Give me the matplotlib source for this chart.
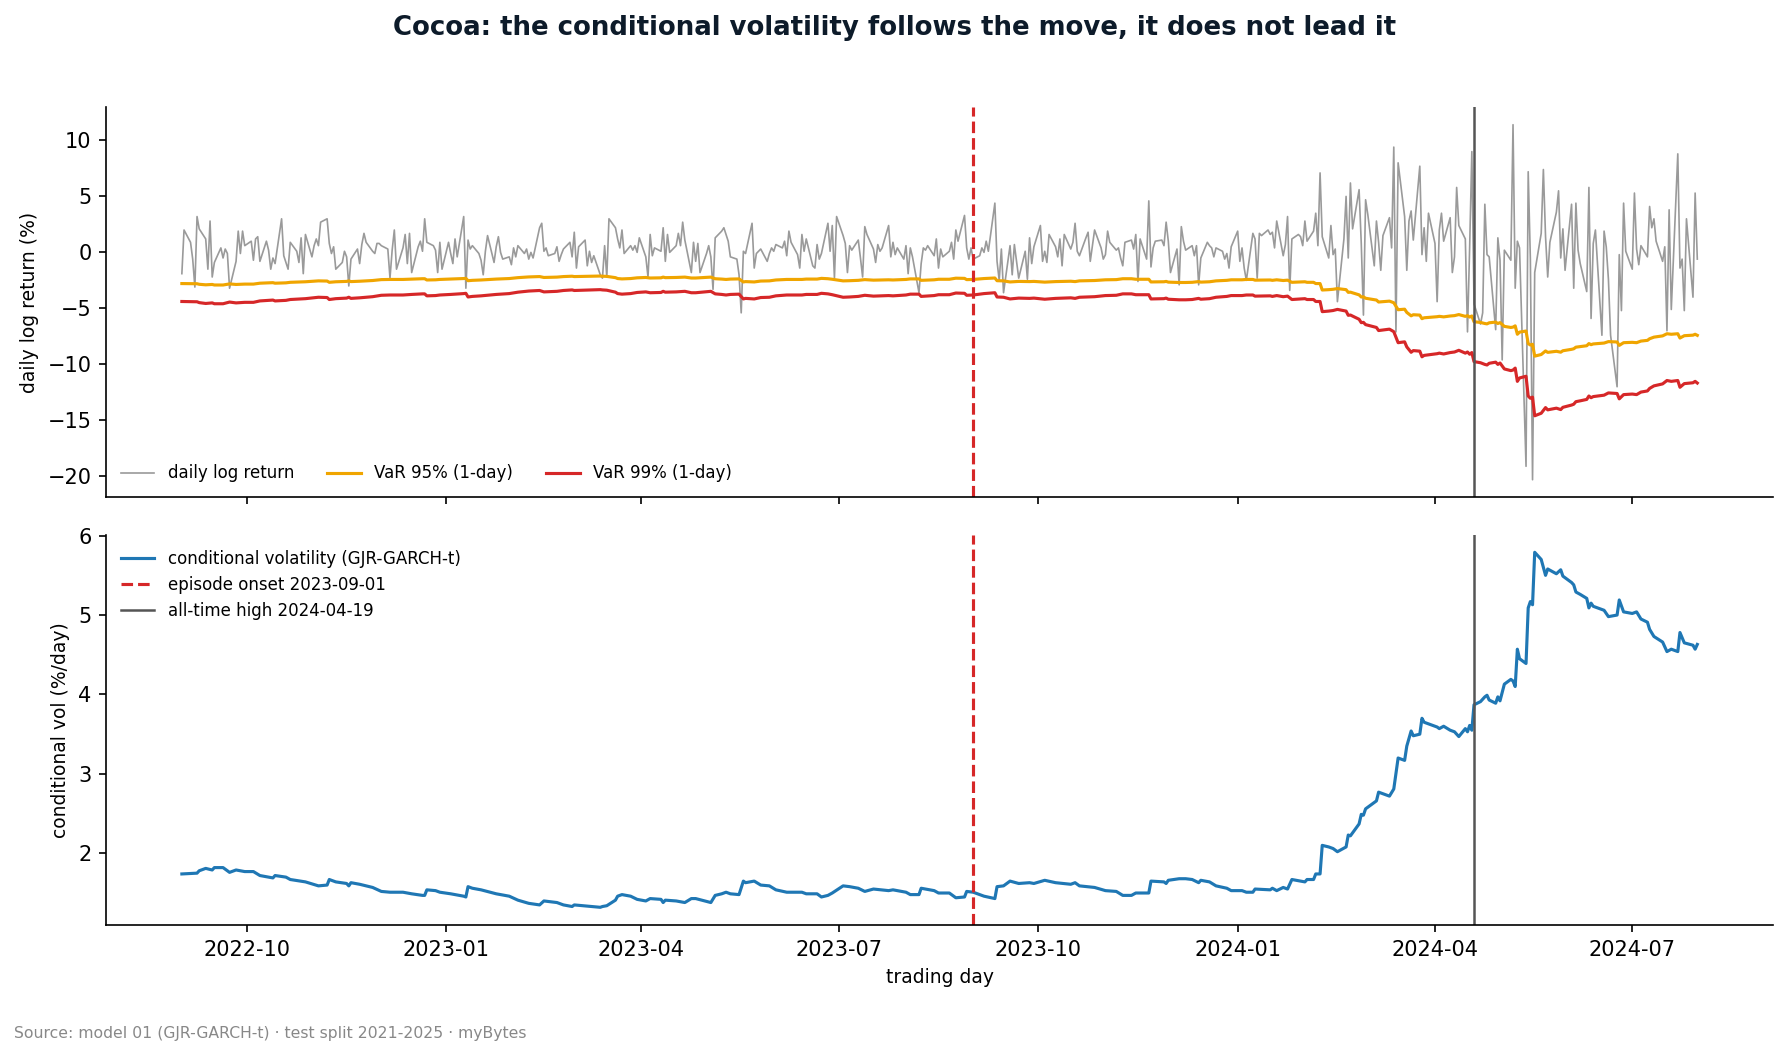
import matplotlib
matplotlib.use("Agg")
import matplotlib.pyplot as plt
import matplotlib.dates as mdates
import pandas as pd

# daily log returns (%), one row per month, business days 2022-09-01 .. 2024-07-31
ret_pct = [
    -1.9, 2.0, 0.9, -0.6, -3.1, 3.2, 2.1, 1.2, -1.5, 2.8, -2.2, -0.9, 0.4, -0.5, 0.3, -0.1, -3.2, -0.8, 1.9, -0.1, 1.9, 0.6,  # 2022-09
    1.0, -0.7, 1.2, 1.4, -0.8, 1.0, 0.2, -1.5, -0.5, -1.0, 3.0, -0.3, -0.9, -1.5, 0.9, 0.1, -0.9, 1.3, -1.9, 1.6, -0.4,  # 2022-10
    0.6, 1.2, 0.6, 2.7, 3.0, 0.8, -0.1, 0.5, -1.5, -0.9, 0.1, -0.4, -3.0, -0.6, 0.3, -1.0, 0.7, 1.7, 0.9, 0.1, -0.1, 0.8,  # 2022-11
    0.8, 0.6, 0.3, -2.3, 0.2, 2.0, -1.5, 0.4, 1.6, -1.0, 1.7, -1.8, 0.5, 1.0, 0.1, 3.0, 0.9, 0.6, 0.2, -1.8, 0.9, -1.5,  # 2022-12
    0.9, -0.1, -1.0, 1.2, -0.4, 3.2, -3.2, 1.1, 0.3, 0.6, -0.1, -0.7, -2.0, 0.1, 1.5, -0.9, 0.5, 1.4, 0.0, -0.6, -0.4, -1.1,  # 2023-01
    0.4, -0.4, 0.6, -0.1, 0.3, -0.6, 0.0, -0.5, 2.2, 2.6, 0.1, 0.4, -0.3, -0.1, 0.5, -0.8, -0.2, 0.3, 0.9, -0.4,  # 2023-02
    1.8, -1.4, 0.5, 1.1, -1.2, 0.1, -0.9, -0.3, -2.0, -2.3, 0.6, -2.2, 3.0, 2.2, 1.2, 0.4, 2.0, -0.1, 0.6, 0.2, 0.6, 0.0, 1.3,  # 2023-03
    -0.4, -2.2, 1.6, -0.3, 0.4, 0.1, 2.2, -0.8, 1.6, 0.0, 0.6, 1.7, 0.6, 2.7, 1.1, -1.8, 0.9, -0.8, 0.8, -1.8,  # 2023-04
    -0.1, 0.6, -0.4, -3.3, 1.3, 1.9, 2.2, 1.6, 1.0, -0.4, -0.6, -2.0, -5.4, 0.1, -0.1, 2.6, -1.4, -0.1, 0.1, 0.3, -0.8, -0.1, 0.4,  # 2023-05
    0.1, 0.7, 0.4, 1.0, -0.3, 1.9, 0.9, -0.2, -1.4, 1.6, 0.1, 1.2, -1.2, -1.4, 0.7, -0.6, -0.1, 2.6, 0.1, 2.4, -2.3, 3.2,  # 2023-06
    1.5, 0.8, -1.8, 0.6, 0.2, 1.1, -0.5, -2.2, 2.3, 1.6, 0.3, -0.9, 0.7, 0.1, 0.4, 2.4, -0.4, 0.9, -0.2, 0.4, -0.6,  # 2023-07
    0.6, -1.9, 0.4, -0.4, -3.6, -1.0, 0.4, 0.2, 0.6, -0.3, 1.2, -1.4, 0.3, -0.4, 0.1, 0.9, -0.6, 2.0, 1.0, 3.3, 0.4, -0.6, 0.4,  # 2023-08
    -0.6, -0.3, 0.4, 0.0, 1.0, 0.1, 4.4, -0.8, -2.5, 0.3, -3.6, 0.6, -2.0, 0.7, -0.8, -2.3, 0.1, -2.4, 1.3, -1.0, 0.5,  # 2023-09
    2.4, -0.8, 0.1, -0.9, 1.6, 0.5, -0.4, 1.2, -1.2, 1.6, 0.3, 0.9, 2.6, 0.1, -0.3, 1.3, 1.8, -0.8, 0.6, 2.0, 0.4, -0.6,  # 2023-10
    -0.2, 1.9, 0.9, 0.2, 0.4, -0.5, -1.2, 0.9, 1.1, 0.3, 1.6, -2.6, 1.2, -0.6, 4.6, -1.3, 0.4, 1.0, 1.1, 0.6, 2.7, 1.0,  # 2023-11
    -1.8, 0.3, -2.9, 2.3, 1.0, 0.2, 0.6, -0.3, 0.6, -2.9, -0.5, 0.9, 0.6, 0.4, -0.4, 0.4, 0.1, -0.6, -0.1, -1.4, 0.5,  # 2023-12
    1.9, -0.8, 0.4, -1.4, -2.5, 1.7, 1.2, -2.3, 1.7, 1.5, 2.0, 1.6, 1.8, 0.4, 2.8, -0.3, 0.7, 3.2, -3.4, 1.2, 1.6, 1.4, 0.6,  # 2024-01
    2.8, 1.0, 1.9, 3.5, 0.6, 7.1, 1.4, -0.5, 2.4, -0.2, 0.3, -4.4, 1.2, 5.0, -0.5, 6.2, 2.1, 5.6, 0.8, -5.6, 4.7,  # 2024-02
    3.4, -1.2, 2.8, 0.9, -1.6, 1.5, 3.1, 0.4, 9.4, -7.1, 8.0, 3.2, -1.6, 2.8, 3.7, 1.1, 7.7, -0.2, 2.2, -0.8, 3.5,  # 2024-03
    0.8, -4.4, 2.0, 3.5, 1.0, 3.1, -1.8, -0.4, 5.8, 2.4, 1.2, -7.1, 0.5, 9.0, -4.6, -6.4, -5.4, 4.3, -0.2, -0.4, -6.9, 1.3,  # 2024-04
    -0.7, -9.6, 0.2, -0.7, 11.4, -3.2, 1.0, 0.4, -19.1, 7.2, -0.6, -20.3, -1.8, 1.7, 7.4, 1.4, -2.2, 0.9, 3.6, 5.5, -0.5, 2.1, -1.6,  # 2024-05
    4.3, -3.2, 4.4, 0.2, -1.0, -3.5, 5.8, -5.9, 0.8, 2.0, -7.4, 1.9, 0.5, -2.4, -7.4, -12.0, -0.2, -5.2, 4.4, 0.1,  # 2024-06
    -1.5, 5.3, 0.3, -1.1, 0.6, -0.4, 4.1, 2.2, 3.0, 1.0, -0.8, 0.5, -7.0, 3.8, -5.1, 8.8, -1.4, -0.6, -5.2, 3.0, -4.0, 5.3, -0.6,  # 2024-07
]
ret_dates = pd.bdate_range("2022-09-01", periods=len(ret_pct))

# GJR-GARCH-t conditional volatility (%/day), read where the line turns
vol_dates = [
    "2022-09-01", "2022-09-08", "2022-09-09", "2022-09-12", "2022-09-15", "2022-09-16", "2022-09-20",
    "2022-09-23", "2022-09-26", "2022-09-30", "2022-10-04", "2022-10-07", "2022-10-13", "2022-10-14",
    "2022-10-19", "2022-10-21", "2022-10-28", "2022-11-03", "2022-11-07", "2022-11-08", "2022-11-11",
    "2022-11-16", "2022-11-17", "2022-11-18", "2022-11-22", "2022-11-28", "2022-12-02", "2022-12-06",
    "2022-12-12", "2022-12-16", "2022-12-21", "2022-12-22", "2022-12-23", "2022-12-27", "2022-12-29",
    "2023-01-03", "2023-01-09", "2023-01-10", "2023-01-11", "2023-01-13", "2023-01-17", "2023-01-24",
    "2023-01-30", "2023-02-03", "2023-02-08", "2023-02-13", "2023-02-15", "2023-02-21", "2023-02-24",
    "2023-02-28", "2023-03-01", "2023-03-09", "2023-03-13", "2023-03-14", "2023-03-16", "2023-03-20",
    "2023-03-21", "2023-03-23", "2023-03-27", "2023-03-30", "2023-04-03", "2023-04-05", "2023-04-10",
    "2023-04-11", "2023-04-12", "2023-04-17", "2023-04-21", "2023-04-24", "2023-04-26", "2023-05-03",
    "2023-05-05", "2023-05-08", "2023-05-10", "2023-05-12", "2023-05-16", "2023-05-18", "2023-05-19",
    "2023-05-23", "2023-05-26", "2023-05-30", "2023-06-02", "2023-06-07", "2023-06-14", "2023-06-16",
    "2023-06-21", "2023-06-23", "2023-06-26", "2023-06-28", "2023-07-03", "2023-07-06", "2023-07-10",
    "2023-07-13", "2023-07-17", "2023-07-24", "2023-07-26", "2023-08-01", "2023-08-03", "2023-08-07",
    "2023-08-08", "2023-08-14", "2023-08-16", "2023-08-21", "2023-08-24", "2023-08-28", "2023-08-29",
    "2023-09-01", "2023-09-06", "2023-09-11", "2023-09-12", "2023-09-15", "2023-09-18", "2023-09-22",
    "2023-09-27", "2023-09-29", "2023-10-04", "2023-10-09", "2023-10-16", "2023-10-18", "2023-10-20",
    "2023-10-27", "2023-11-01", "2023-11-06", "2023-11-09", "2023-11-13", "2023-11-15", "2023-11-21",
    "2023-11-22", "2023-11-28", "2023-11-29", "2023-11-30", "2023-12-05", "2023-12-08", "2023-12-11",
    "2023-12-14", "2023-12-15", "2023-12-19", "2023-12-22", "2023-12-27", "2023-12-29", "2024-01-03",
    "2024-01-05", "2024-01-08", "2024-01-09", "2024-01-16", "2024-01-17", "2024-01-19", "2024-01-22",
    "2024-01-24", "2024-01-26", "2024-02-01", "2024-02-02", "2024-02-05", "2024-02-06", "2024-02-08",
    "2024-02-09", "2024-02-12", "2024-02-14", "2024-02-16", "2024-02-20", "2024-02-21", "2024-02-22",
    "2024-02-26", "2024-02-27", "2024-02-28", "2024-02-29", "2024-03-05", "2024-03-06", "2024-03-11",
    "2024-03-13", "2024-03-15", "2024-03-18", "2024-03-19", "2024-03-21", "2024-03-22", "2024-03-25",
    "2024-03-26", "2024-03-27", "2024-04-02", "2024-04-03", "2024-04-05", "2024-04-08", "2024-04-10",
    "2024-04-12", "2024-04-15", "2024-04-16", "2024-04-17", "2024-04-18", "2024-04-19", "2024-04-22",
    "2024-04-24", "2024-04-25", "2024-04-26", "2024-04-29", "2024-04-30", "2024-05-01", "2024-05-03",
    "2024-05-06", "2024-05-07", "2024-05-08", "2024-05-09", "2024-05-10", "2024-05-13", "2024-05-14",
    "2024-05-15", "2024-05-16", "2024-05-17", "2024-05-20", "2024-05-22", "2024-05-23", "2024-05-27",
    "2024-05-29", "2024-05-30", "2024-06-03", "2024-06-04", "2024-06-05", "2024-06-07", "2024-06-10",
    "2024-06-11", "2024-06-12", "2024-06-13", "2024-06-18", "2024-06-20", "2024-06-24", "2024-06-25",
    "2024-06-27", "2024-07-01", "2024-07-03", "2024-07-05", "2024-07-08", "2024-07-09", "2024-07-11",
    "2024-07-15", "2024-07-17", "2024-07-19", "2024-07-22", "2024-07-23", "2024-07-25", "2024-07-29",
    "2024-07-30", "2024-07-31",
]
vol_pct = [
    1.74, 1.75, 1.78, 1.81, 1.79, 1.82, 1.82,
    1.76, 1.79, 1.77, 1.77, 1.72, 1.69, 1.72,
    1.70, 1.67, 1.64, 1.59, 1.60, 1.67, 1.64,
    1.62, 1.59, 1.63, 1.61, 1.57, 1.52, 1.51,
    1.51, 1.49, 1.47, 1.47, 1.54, 1.53, 1.51,
    1.49, 1.46, 1.45, 1.58, 1.56, 1.54, 1.49,
    1.46, 1.41, 1.37, 1.35, 1.40, 1.38, 1.35,
    1.33, 1.35, 1.33, 1.32, 1.33, 1.34, 1.41,
    1.46, 1.48, 1.46, 1.42, 1.40, 1.43, 1.42,
    1.38, 1.41, 1.40, 1.38, 1.43, 1.43, 1.38,
    1.47, 1.49, 1.51, 1.49, 1.48, 1.65, 1.63,
    1.65, 1.60, 1.59, 1.54, 1.51, 1.51, 1.49,
    1.49, 1.45, 1.47, 1.50, 1.59, 1.58, 1.56,
    1.52, 1.55, 1.53, 1.54, 1.51, 1.48, 1.48,
    1.56, 1.53, 1.50, 1.50, 1.44, 1.45, 1.52,
    1.51, 1.46, 1.43, 1.58, 1.59, 1.65, 1.62,
    1.63, 1.62, 1.66, 1.63, 1.61, 1.63, 1.59,
    1.57, 1.53, 1.52, 1.47, 1.47, 1.50, 1.50,
    1.65, 1.64, 1.62, 1.66, 1.68, 1.68, 1.67,
    1.63, 1.66, 1.64, 1.59, 1.56, 1.53, 1.53,
    1.51, 1.51, 1.55, 1.54, 1.56, 1.53, 1.57,
    1.55, 1.67, 1.64, 1.67, 1.67, 1.74, 1.74,
    2.10, 2.08, 2.06, 2.02, 2.08, 2.23, 2.22,
    2.37, 2.49, 2.48, 2.56, 2.66, 2.77, 2.72,
    2.81, 3.20, 3.17, 3.35, 3.54, 3.48, 3.50,
    3.70, 3.65, 3.59, 3.57, 3.60, 3.55, 3.53,
    3.47, 3.57, 3.53, 3.61, 3.55, 3.87, 3.91,
    3.97, 3.99, 3.93, 3.89, 3.97, 3.92, 4.13,
    4.19, 4.17, 4.10, 4.57, 4.45, 4.39, 5.09,
    5.17, 5.13, 5.79, 5.70, 5.50, 5.58, 5.52,
    5.57, 5.49, 5.41, 5.38, 5.29, 5.26, 5.21,
    5.09, 5.15, 5.11, 5.06, 4.98, 5.00, 5.19,
    5.04, 5.02, 5.04, 4.95, 4.91, 4.82, 4.73,
    4.66, 4.54, 4.57, 4.54, 4.78, 4.65, 4.62,
    4.57, 4.63,
]
vol_dates = pd.to_datetime(vol_dates)

# one-day VaR sits at a fixed multiple of the conditional vol
var95_mult = 1.60
var99_mult = 2.52
var95 = [-var95_mult * v for v in vol_pct]
var99 = [-var99_mult * v for v in vol_pct]

onset = pd.Timestamp("2023-09-01")
ath = pd.Timestamp("2024-04-19")

fig, (ax1, ax2) = plt.subplots(2, 1, sharex=True, figsize=(1789 / 150, 1056 / 150), dpi=150)
fig.subplots_adjust(left=0.0593, right=0.9911, top=0.8987, bottom=0.124, hspace=0.095)

ax1.plot(ret_dates, ret_pct, color="#9a9a9a", lw=0.8, label="daily log return")
ax1.plot(vol_dates, var95, color="#f0a500", lw=1.5, label="VaR 95% (1-day)")
ax1.plot(vol_dates, var99, color="#d62728", lw=1.5, label="VaR 99% (1-day)")
ax1.axvline(onset, color="#d62728", ls="--", lw=1.5)
ax1.axvline(ath, color="#555555", lw=1.2)
ax1.set_ylabel("daily log return (%)", fontsize=9)
ax1.legend(loc="lower left", ncol=3, frameon=False, fontsize=8)

ax2.plot(vol_dates, vol_pct, color="#1f77b4", lw=1.5, label="conditional volatility (GJR-GARCH-t)")
ax2.axvline(onset, color="#d62728", ls="--", lw=1.5, label="episode onset 2023-09-01")
ax2.axvline(ath, color="#555555", lw=1.2, label="all-time high 2024-04-19")
ax2.set_ylabel("conditional vol (%/day)", fontsize=9)
ax2.set_xlabel("trading day", fontsize=9)
ax2.legend(loc="upper left", frameon=False, fontsize=8)

for ax in (ax1, ax2):
    ax.spines["top"].set_visible(False)
    ax.spines["right"].set_visible(False)
    ax.tick_params(labelsize=10)

ax2.xaxis.set_major_locator(mdates.MonthLocator(bymonth=[1, 4, 7, 10]))
ax2.xaxis.set_major_formatter(mdates.DateFormatter("%Y-%m"))

fig.suptitle("Cocoa: the conditional volatility follows the move, it does not lead it",
             fontsize=12.5, fontweight="bold", color="#0d1b2a", y=0.986)
fig.text(0.008, 0.0166, "Source: model 01 (GJR-GARCH-t) \u00b7 test split 2021-2025 \u00b7 myBytes",
         fontsize=7.5, color="#888888")

fig.savefig("out.png", dpi=150)
